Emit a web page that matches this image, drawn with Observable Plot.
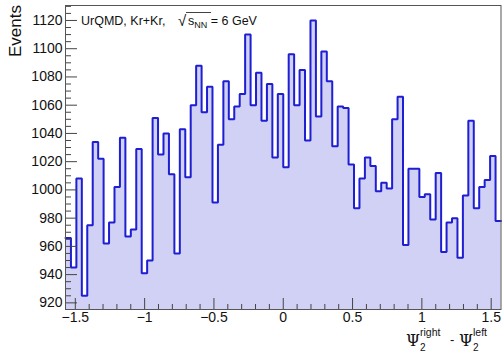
<!DOCTYPE html>
<html><head><meta charset="utf-8">
<script src="https://cdn.jsdelivr.net/npm/d3@7"></script>
<script src="https://cdn.jsdelivr.net/npm/@observablehq/plot@0.6"></script>
<style>
html,body{margin:0;padding:0;background:#fff;}
#chart{position:relative;width:502px;height:351px;overflow:hidden}
svg{font-family:"Liberation Sans",Arial,Helvetica,sans-serif}
</style></head><body><div id="chart"></div>
<script>
// Histogram bin contents (80 bins from -pi/2 to pi/2)
const counts = [
  966,945,1008,925,975,1034,1022,962,977,1002,
  1037,967,972,1029,941,950,1051,1025,1040,1011,
  955,1043,1009,1060,1088,1055,1073,991,1032,1077,
  1050,1059,1068,1110,1060,1083,1049,1075,1023,1068,
  1016,1096,1060,1085,1035,1120,1052,1098,1077,1031,
  1059,1058,1018,987,1008,1023,1017,999,1005,1001,
  1050,1066,961,1015,1015,995,997,979,1012,956,
  977,980,952,996,1049,987,1002,1007,1024,978
];
const xRange = [-Math.PI/2, Math.PI/2];
const yRange = [915.3, 1130.6];
const xMajorTicks = [-1.5,-1,-0.5,0,0.5,1,1.5];
const xMinorTicks = d3.range(-15,16).map(d=>d/10);
const yMajorTicks = [920,940,960,980,1000,1020,1040,1060,1080,1100,1120];
const yMinorTicks = d3.range(920,1131,5);
const yLabel = "Events";
const titleMain = "UrQMD, Kr+Kr,";

const W = 502, H = 351;
const mL = 65, mR = 1.5, mT = 5, mB = 42;
const frameW = W - mL - mR, frameH = H - mT - mB;

const nBins = counts.length;
const binW = (xRange[1]-xRange[0])/nBins;
const bins = counts.map((v,i)=>({x1: xRange[0]+i*binW, x2: xRange[0]+(i+1)*binW, v}));
const outline = bins.flatMap(b=>[{x:b.x1, v:b.v},{x:b.x2, v:b.v}]);

const fillColor = "#d1d1f5", lineColor = "#1e1ed2", axisColor = "#444";
const ff = '"Liberation Sans", Arial, sans-serif';

const plot = Plot.plot({
  width: W, height: H,
  marginLeft: mL, marginRight: mR, marginTop: mT, marginBottom: mB,
  style: {fontFamily: ff, background: "#fff", overflow: "visible", fontSize: "14px"},
  x: {domain: xRange, ticks: xMajorTicks, tickSize: 0, tickPadding: 3, label: null, tickFormat: d => String(d).replace("-", "\u2212")},
  y: {domain: yRange, ticks: yMajorTicks, tickSize: 0, tickPadding: 3, label: null, tickFormat: d => String(d)},
  marks: [
    Plot.areaY(outline, {x: "x", y1: yRange[0], y2: "v", fill: fillColor}),
    Plot.line(outline, {x: "x", y: "v", stroke: lineColor, strokeWidth: 2, strokeLinejoin: "miter"}),
    Plot.tickY(yMajorTicks, {y: d => d, stroke: axisColor, insetRight: frameW - 12}),
    Plot.tickY(yMinorTicks.filter(d => !yMajorTicks.includes(d)), {y: d => d, stroke: axisColor, insetRight: frameW - 6}),
    Plot.tickX(xMajorTicks, {x: d => d, stroke: axisColor, insetTop: frameH - 11}),
    Plot.tickX(xMinorTicks.filter(d => !xMajorTicks.includes(d)), {x: d => d, stroke: axisColor, insetTop: frameH - 5}),
    Plot.frame({stroke: "#555"})
  ]
});
document.getElementById("chart").appendChild(plot);
d3.select(plot).selectAll("g[aria-label$='tick label'] text").attr("fill", "#111");

const svg = d3.select(plot);
// y axis title
svg.append("text").attr("transform", "translate(21,5) rotate(-90)")
  .attr("text-anchor", "end").attr("font-size", 17).attr("font-family", ff).attr("fill", "#111").text(yLabel);
// in-frame title
const tg = svg.append("g").attr("font-family", ff).attr("fill", "#111").attr("text-anchor", "start").attr("font-size", 12.5);
tg.append("text").attr("x", 81).attr("y", 25).text(titleMain);
tg.append("text").attr("x", 178).attr("y", 26).attr("font-size", 15).text("\u221A");
const t2 = tg.append("text").attr("x", 188).attr("y", 25);
t2.append("tspan").text("s");
t2.append("tspan").attr("font-size", 9).attr("dy", 3).text("NN");
t2.append("tspan").attr("dy", -3).text(" = 6 GeV");
svg.append("line").attr("x1", 186).attr("x2", 211).attr("y1", 12.5).attr("y2", 12.5).attr("stroke", "#111").attr("stroke-width", 0.8);
// x axis title
const xt = svg.append("g").attr("font-family", ff).attr("fill", "#111").attr("text-anchor", "start");
xt.append("text").attr("x", 406).attr("y", 346).attr("font-size", 16).attr("font-family", '"DejaVu Serif", serif').text("\u03A8");
xt.append("text").attr("x", 420).attr("y", 336).attr("font-size", 10.5).text("right");
xt.append("text").attr("x", 420).attr("y", 350.5).attr("font-size", 10).text("2");
xt.append("text").attr("x", 450).attr("y", 344).attr("font-size", 13).text("-");
xt.append("text").attr("x", 459).attr("y", 346).attr("font-size", 16).attr("font-family", '"DejaVu Serif", serif').text("\u03A8");
xt.append("text").attr("x", 473).attr("y", 336).attr("font-size", 10.5).text("left");
xt.append("text").attr("x", 473).attr("y", 350.5).attr("font-size", 10).text("2");
</script></body></html>
